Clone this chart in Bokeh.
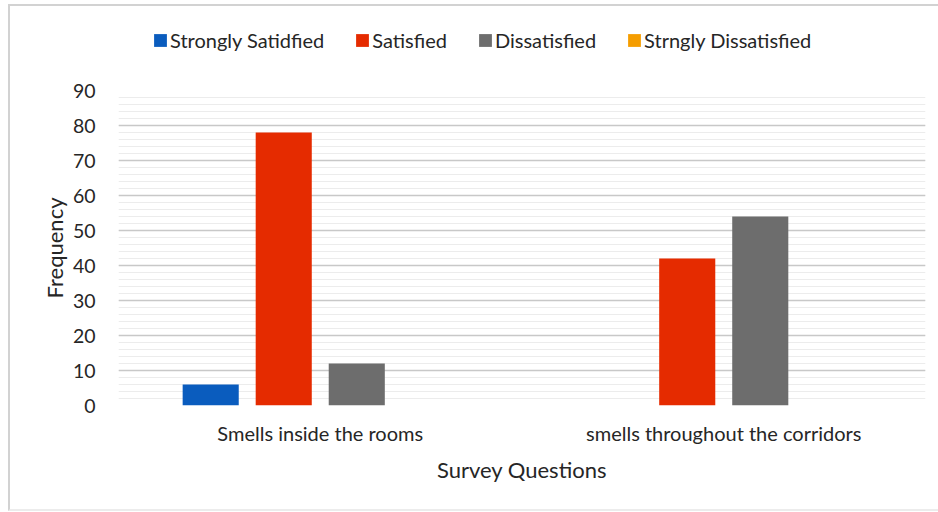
from bokeh.plotting import figure
from bokeh.layouts import column
from bokeh.models import (ColumnDataSource, FactorRange, Range1d, Legend, LegendItem,
                          SingleIntervalTicker)
from bokeh.transform import dodge
from bokeh.embed import file_html
from bokeh.resources import INLINE

# Survey data
questions = ["Smells inside the rooms", "smells throughout the corridors"]
series_names = ["Strongly Satidfied", "Satisfied", "Dissatisfied", "Strngly Dissatisfied"]
strongly_satisfied = [6, 0]
satisfied = [78, 42]
dissatisfied = [12, 54]
strongly_dissatisfied = [0, 0]
y_ticks = [0, 10, 20, 30, 40, 50, 60, 70, 80, 90]

colors = ["#0a5cbe", "#e52b00", "#6d6d6d", "#f59d00"]
FONT = "Lato"
TEXT = "#262626"

source = ColumnDataSource(dict(
    q=questions,
    s1=strongly_satisfied,
    s2=satisfied,
    s3=dissatisfied,
    s4=strongly_dissatisfied,
))

# --- main chart ---
p = figure(
    x_range=FactorRange(*questions, range_padding=0),
    y_range=Range1d(0, 90),
    width=928, height=433,
    output_backend="svg", toolbar_location=None,
    min_border_left=108, min_border_right=13,
    min_border_top=14, min_border_bottom=104,
)
p.outline_line_color = None
p.background_fill_color = "white"
p.border_fill_color = "white"

step = 0.181
bar_w = 0.139
offsets = [-1.5 * step, -0.5 * step, 0.5 * step, 1.5 * step]
for col, off, c in zip(["s1", "s2", "s3", "s4"], offsets, colors):
    p.vbar(x=dodge("q", off, range=p.x_range), top=col, width=bar_w,
           source=source, fill_color=c, line_color=None)

# Grid
p.xgrid.grid_line_color = None
p.ygrid.grid_line_color = "#c8c8c8"
p.ygrid.grid_line_width = 1.5
p.ygrid.minor_grid_line_color = "#ececec"
p.ygrid.minor_grid_line_width = 1

# Y axis
p.yaxis.ticker = SingleIntervalTicker(interval=10, num_minor_ticks=5)
p.ygrid.ticker = p.yaxis.ticker
p.yaxis.axis_line_color = None
p.yaxis.major_tick_line_color = None
p.yaxis.minor_tick_line_color = None
p.yaxis.major_label_standoff = 17
p.yaxis.major_label_text_font = FONT
p.yaxis.major_label_text_font_size = "19.5px"
p.yaxis.major_label_text_color = TEXT
p.yaxis.axis_label = "Frequency"
p.yaxis.axis_label_text_font = FONT
p.yaxis.axis_label_text_font_size = "22px"
p.yaxis.axis_label_text_font_style = "normal"
p.yaxis.axis_label_text_color = TEXT
p.yaxis.axis_label_standoff = 2

# X axis
p.xaxis.axis_line_color = None
p.xaxis.major_tick_line_color = None
p.xaxis.minor_tick_line_color = None
p.xaxis.major_label_standoff = 9
p.xaxis.major_label_text_font = FONT
p.xaxis.major_label_text_font_size = "20px"
p.xaxis.major_label_text_color = TEXT
p.xaxis.axis_label = "Survey Questions"
p.xaxis.axis_label_text_font = FONT
p.xaxis.axis_label_text_font_size = "22px"
p.xaxis.axis_label_text_font_style = "normal"
p.xaxis.axis_label_text_color = TEXT
p.xaxis.axis_label_standoff = 8

# --- legend strip above the chart ---
lf = figure(
    x_range=Range1d(0, 1), y_range=Range1d(0, 1),
    width=928, height=70,
    output_backend="svg", toolbar_location=None,
    min_border=0,
)
lf.axis.visible = False
lf.grid.visible = False
lf.outline_line_color = None
lf.border_fill_color = "white"
# swatch renderers sit outside the visible range; they only supply legend colours
swatches = [lf.vbar(x=[-10], top=[0], width=0.1, fill_color=c, line_color=None)
            for c in colors]

legend = Legend(
    items=[LegendItem(label=n, renderers=[r]) for n, r in zip(series_names, swatches)],
    orientation="horizontal",
    location=(34, 24),
    glyph_width=16, glyph_height=16,
    label_standoff=2, spacing=30, padding=0, margin=0,
    label_text_font=FONT, label_text_font_size="20px", label_text_color=TEXT,
    border_line_color=None, background_fill_alpha=0,
)
lf.add_layout(legend, "center")

layout = column(lf, p, spacing=0)
layout.margin = (4, 0, 0, 8)
layout.styles = {"border-left": "2px solid #d2d2d2",
                 "border-top": "2px solid #d2d2d2",
                 "border-bottom": "2px solid #ececec"}

open("out.html", "w").write(file_html(layout, INLINE))
